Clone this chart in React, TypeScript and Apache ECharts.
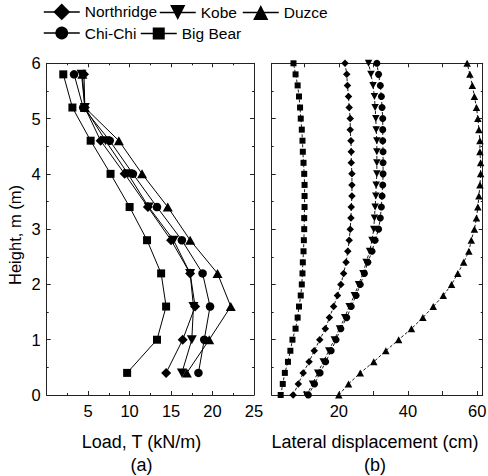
import React, { useEffect, useRef } from 'react';
import * as echarts from 'echarts';

// ---------- Data ----------
const SERIES_NAMES = ['Northridge', 'Kobe', 'Duzce', 'Chi-Chi', 'Big Bear'];

// (a) Load vs height
const LOAD_HEIGHTS = [0.4, 1.0, 1.6, 2.2, 2.8, 3.4, 4.0, 4.6, 5.2, 5.8];
const LOAD_NORTHRIDGE = [14.4, 16.4, 17.9, 17.3, 15.0, 12.2, 9.4, 6.5, 4.6, 4.5];
const LOAD_KOBE = [16.3, 17.5, 17.7, 17.3, 15.3, 12.3, 9.8, 7.1, 4.6, 4.2];
const LOAD_DUZCE = [16.9, 19.6, 22.2, 20.6, 17.3, 14.6, 11.5, 8.7, 4.6, 4.3];
const LOAD_CHICHI = [18.3, 19.0, 19.7, 18.8, 16.3, 13.3, 10.4, 7.6, 4.4, 3.3];
const LOAD_BIGBEAR = [9.7, 13.3, 14.4, 13.8, 12.1, 10.0, 7.7, 5.3, 3.1, 2.0];

// (b) Lateral displacement vs height
const DISP_HEIGHTS = [0.0, 0.2, 0.4, 0.6, 0.8, 1.0, 1.2, 1.4, 1.6, 1.8, 2.0, 2.2, 2.4, 2.6, 2.8, 3.0,
  3.2, 3.4, 3.6, 3.8, 4.0, 4.2, 4.4, 4.6, 4.8, 5.0, 5.2, 5.4, 5.6, 5.8, 6.0];
const DISP_BIGBEAR = [3.2, 3.8, 4.4, 5.3, 6.0, 6.6, 7.5, 8.1, 8.5, 9.0, 9.3, 9.5, 9.6, 9.8, 9.9, 10.0,
  10.0, 10.1, 10.1, 10.1, 10.0, 9.8, 9.6, 9.5, 9.3, 9.0, 8.8, 8.5, 8.1, 7.5, 6.9];
const DISP_NORTHRIDGE = [6.8, 8.3, 9.7, 11.4, 12.9, 14.5, 16.1, 17.3, 18.5, 19.6, 20.6, 21.4, 22.1, 22.6, 23.0, 23.3,
  23.5, 23.6, 23.8, 23.8, 23.8, 23.6, 23.6, 23.5, 23.3, 23.3, 23.0, 22.8, 22.5, 22.3, 21.8];
const DISP_KOBE = [10.7, 12.4, 13.9, 15.5, 17.1, 18.7, 20.2, 21.7, 23.0, 24.5, 25.7, 27.0, 27.9, 28.9, 29.6, 30.1,
  30.3, 30.5, 30.7, 30.8, 31.0, 31.0, 31.0, 31.0, 30.8, 30.7, 30.5, 30.3, 29.9, 29.3, 28.6];
const DISP_CHICHI = [11.2, 13.0, 14.6, 16.2, 17.8, 19.2, 20.6, 22.3, 23.6, 25.0, 26.2, 27.4, 28.4, 29.6, 30.5, 31.5,
  32.0, 32.3, 32.5, 32.7, 32.8, 32.8, 32.8, 32.7, 32.7, 32.7, 32.5, 32.3, 32.0, 31.5, 31.0];
const DISP_DUZCE = [20.0, 22.8, 26.2, 30.1, 33.6, 37.3, 41.0, 44.3, 47.3, 50.2, 52.6, 54.4, 56.1, 57.6, 58.3, 59.2,
  59.8, 60.2, 60.5, 60.8, 61.0, 61.0, 60.8, 60.8, 60.5, 60.2, 59.8, 59.2, 58.6, 57.9, 57.1];

const Y_TICKS = [0, 1, 2, 3, 4, 5, 6];
const LOAD_TICKS = [0, 5, 10, 15, 20, 25];
const DISP_TICKS = [10, 20, 30, 40, 50, 60];
const DISP_LABELS = [20, 40, 60];

const FONT = 'Liberation Sans, Arial, Helvetica, sans-serif';
const DOWN_TRI = 'path://M0,0L10,0L5,9Z';

const SYMBOLS: Record<string, string> = {
  Northridge: 'diamond',
  Kobe: DOWN_TRI,
  Duzce: 'triangle',
  'Chi-Chi': 'circle',
  'Big Bear': 'rect',
};
const SIZE_A: Record<string, any> = {
  Northridge: [10, 10],
  Kobe: [10, 9],
  Duzce: [10, 9],
  'Chi-Chi': 8.5,
  'Big Bear': 8,
};
const SIZE_B: Record<string, any> = {
  Northridge: [7.5, 7.5],
  Kobe: [7.5, 7],
  Duzce: [7.5, 7],
  'Chi-Chi': 7,
  'Big Bear': 6,
};

const LOAD_DATA: Record<string, number[]> = {
  Northridge: LOAD_NORTHRIDGE,
  Kobe: LOAD_KOBE,
  Duzce: LOAD_DUZCE,
  'Chi-Chi': LOAD_CHICHI,
  'Big Bear': LOAD_BIGBEAR,
};
const DISP_DATA: Record<string, number[]> = {
  Northridge: DISP_NORTHRIDGE,
  Kobe: DISP_KOBE,
  Duzce: DISP_DUZCE,
  'Chi-Chi': DISP_CHICHI,
  'Big Bear': DISP_BIGBEAR,
};

const AXIS_COLOR = '#222';

function App() {
  const ref = useRef<HTMLDivElement>(null);

  useEffect(() => {
    if (!ref.current) return;
    const chart = echarts.init(ref.current, undefined, { renderer: 'svg' });

    const G0 = { left: 46.7, top: 63.3, width: 207.3, height: 331.7 };
    const G1 = { left: 271.7, top: 63.3, width: 211, height: 331.7 };

    const tickCommon = {
      axisLine: { show: true, onZero: false, lineStyle: { color: AXIS_COLOR, width: 1 } },
      axisTick: { show: true, inside: true, length: 4, lineStyle: { color: AXIS_COLOR, width: 1 } },
      splitLine: { show: false },
    };

    const labelStyle = { color: '#000', fontFamily: FONT, fontSize: 16.5 };

    const yAxisBase = (gridIndex: number, position: string, showLabels: boolean) => ({
      type: 'value',
      gridIndex,
      position,
      min: Y_TICKS[0],
      max: Y_TICKS[Y_TICKS.length - 1],
      interval: 1,
      ...tickCommon,
      minorTick: { show: true, splitNumber: 2, length: 2, lineStyle: { color: AXIS_COLOR, width: 1 } },
      axisLabel: showLabels
        ? { show: true, margin: 6, ...labelStyle }
        : { show: false },
    });

    const xLoad = (position: string, showLabels: boolean) => ({
      type: 'value',
      gridIndex: 0,
      position,
      min: LOAD_TICKS[0],
      max: LOAD_TICKS[LOAD_TICKS.length - 1],
      interval: 5,
      ...tickCommon,
      minorTick: { show: true, splitNumber: 2, length: 2, lineStyle: { color: AXIS_COLOR, width: 1 } },
      axisLabel: showLabels
        ? { show: true, margin: 7, showMinLabel: false, ...labelStyle }
        : { show: false },
    });

    const xDisp = (position: string, showLabels: boolean) => ({
      type: 'value',
      gridIndex: 1,
      position,
      min: 0.6,
      max: 61.6,
      ...tickCommon,
      axisTick: { ...tickCommon.axisTick, customValues: DISP_TICKS },
      axisLabel: showLabels
        ? { show: true, margin: 7, customValues: DISP_LABELS, ...labelStyle }
        : { show: false, customValues: DISP_LABELS },
    });

    const series: any[] = [];
    SERIES_NAMES.forEach((name) => {
      series.push({
        type: 'line',
        name,
        xAxisIndex: 0,
        yAxisIndex: 0,
        data: LOAD_DATA[name].map((v, i) => [v, LOAD_HEIGHTS[i]]),
        symbol: SYMBOLS[name],
        symbolSize: SIZE_A[name],
        showAllSymbol: true,
        clip: false,
        lineStyle: { color: '#000', width: 1, type: 'solid' },
        itemStyle: { color: '#000', borderWidth: 0 },
        emphasis: { disabled: true },
      });
    });
    SERIES_NAMES.forEach((name) => {
      series.push({
        type: 'line',
        name,
        xAxisIndex: 2,
        yAxisIndex: 2,
        data: DISP_DATA[name].map((v, i) => [v, DISP_HEIGHTS[i]]),
        symbol: SYMBOLS[name],
        symbolSize: SIZE_B[name],
        showAllSymbol: true,
        clip: false,
        lineStyle: { color: '#000', width: 0.9, type: [3, 2] },
        itemStyle: { color: '#000', borderWidth: 0 },
        emphasis: { disabled: true },
      });
    });

    const legendItem = (name: string, left: number, top: number, h: number) => ({
      show: true,
      data: [name],
      left,
      top,
      orient: 'horizontal',
      itemWidth: 36,
      itemHeight: h,
      itemGap: 4,
      padding: 0,
      selectedMode: false,
      textStyle: { color: '#000', fontFamily: FONT, fontSize: 15.5 },
      lineStyle: { width: 1.5, type: 'solid', color: '#000' },
      itemStyle: { color: '#000' },
    });

    const option: any = {
      animation: false,
      backgroundColor: '#fff',
      textStyle: { fontFamily: FONT },
      grid: [
        { ...G0, containLabel: false, outerBoundsMode: 'none' },
        { ...G1, containLabel: false, outerBoundsMode: 'none' },
      ],
      xAxis: [
        xLoad('bottom', true),
        xLoad('top', false),
        xDisp('bottom', true),
        xDisp('top', false),
      ],
      yAxis: [
        yAxisBase(0, 'left', true),
        yAxisBase(0, 'right', false),
        yAxisBase(1, 'left', false),
        yAxisBase(1, 'right', false),
      ],
      legend: [
        legendItem('Northridge', 43, 3.5, 21),
        legendItem('Kobe', 159, 4.5, 19),
        legendItem('Duzce', 242, 4.5, 19),
        legendItem('Chi-Chi', 43, 25, 16),
        legendItem('Big Bear', 140, 25.5, 15),
      ],
      graphic: [
        {
          type: 'text',
          x: 15,
          y: 235,
          rotation: Math.PI / 2,
          style: {
            text: 'Height, m (m)',
            fill: '#000',
            font: `16.5px ${FONT}`,
            textAlign: 'center',
            textVerticalAlign: 'middle',
          },
        },
        {
          type: 'text',
          x: 141.5,
          y: 442,
          style: {
            text: 'Load, T (kN/m)',
            fill: '#000',
            font: `18px ${FONT}`,
            textAlign: 'center',
            textVerticalAlign: 'middle',
          },
        },
        {
          type: 'text',
          x: 141.5,
          y: 465,
          style: {
            text: '(a)',
            fill: '#000',
            font: `18px ${FONT}`,
            textAlign: 'center',
            textVerticalAlign: 'middle',
          },
        },
        {
          type: 'text',
          x: 375,
          y: 442,
          style: {
            text: 'Lateral displacement (cm)',
            fill: '#000',
            font: `18px ${FONT}`,
            textAlign: 'center',
            textVerticalAlign: 'middle',
          },
        },
        {
          type: 'text',
          x: 375,
          y: 465,
          style: {
            text: '(b)',
            fill: '#000',
            font: `18px ${FONT}`,
            textAlign: 'center',
            textVerticalAlign: 'middle',
          },
        },
      ],
      series,
    };

    chart.setOption(option);
    return () => {
      chart.dispose();
    };
  }, []);

  return (
    <div
      ref={ref}
      style={{ position: 'fixed', left: 0, top: 0, width: 488, height: 476, background: '#fff' }}
    />
  );
}

export default App;
